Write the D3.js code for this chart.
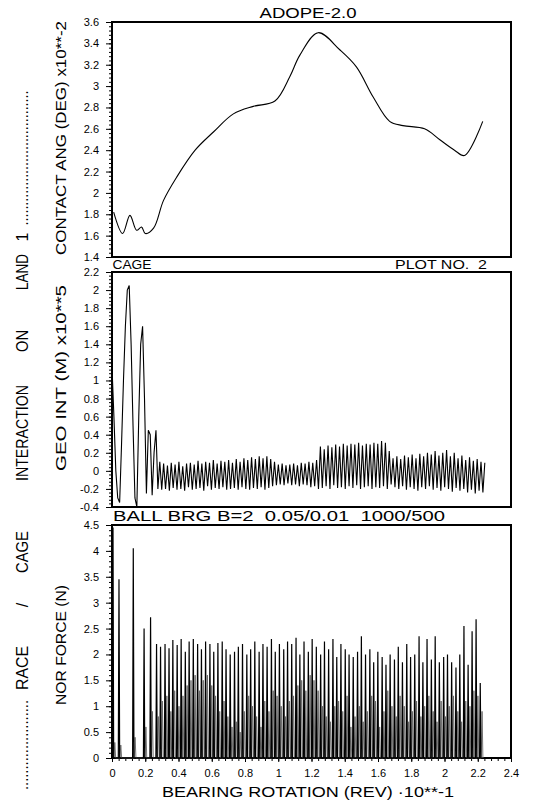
<!DOCTYPE html>
<html lang="en">
<head>
<meta charset="utf-8">
<script src="https://cdn.jsdelivr.net/npm/d3@7"></script>
<style type="text/css">
body { margin: 0; background: #fff; }
svg text { font-family: "Liberation Sans", Arial, sans-serif; fill: #000; }
.tick text { font-size: 11px; }
.tick line { stroke: #000; }
</style>
</head>
<body>
<script type="text/javascript">

// x axis: bearing rotation (rev) x10**-1
var rotTicks = [0, 0.2, 0.4, 0.6, 0.8, 1, 1.2, 1.4, 1.6, 1.8, 2, 2.2, 2.4];
var rotLabels = ["0", "0.2", "0.4", "0.6", "0.8", "1", "1.2", "1.4", "1.6", "1.8", "2", "2.2", "2.4"];

// top panel: contact angle (deg) x10**-2
var angTicks = [1.4, 1.6, 1.8, 2, 2.2, 2.4, 2.6, 2.8, 3, 3.2, 3.4, 3.6];
var angLabels = ["1.4", "1.6", "1.8", "2", "2.2", "2.4", "2.6", "2.8", "3", "3.2", "3.4", "3.6"];
var angX = [0.01, 0.064, 0.108, 0.148, 0.178, 0.2, 0.25, 0.31, 0.39, 0.5, 0.61, 0.73, 0.85, 0.98, 1.07, 1.13, 1.24, 1.37, 1.47, 1.57, 1.67, 1.75, 1.88, 1.97, 2.06, 2.12, 2.23];
var angY = [1.82, 1.62, 1.79, 1.65, 1.68, 1.62, 1.67, 1.93, 2.15, 2.40, 2.57, 2.74, 2.81, 2.86, 3.09, 3.29, 3.50, 3.34, 3.18, 2.90, 2.67, 2.63, 2.60, 2.50, 2.40, 2.35, 2.67];

// middle panel: geo interference (m) x10**5, sampled every geoStep
var geoTicks = [-0.4, -0.2, 0, 0.2, 0.4, 0.6, 0.8, 1, 1.2, 1.4, 1.6, 1.8, 2, 2.2];
var geoLabels = ["-0.4", "-0.2", "0", "0.2", "0.4", "0.6", "0.8", "1", "1.2", "1.4", "1.6", "1.8", "2", "2.2"];
var geoStep = 0.0115;
var geoY = [1.15, 0.6, 0.0, -0.3, -0.35, 0.3, 1.0, 1.6, 2.0, 2.05, 1.4, 0.5, -0.3, -0.4, 0.6, 1.4, 1.6, 0.8, -0.25, 0.45,
  0.4, -0.27, 0.2, 0.45, -0.2, 0.1, -0.21, 0.08, -0.2, 0.06, -0.22, 0.09, -0.19, 0.07, -0.21, 0.1, -0.2, 0.05, -0.22, 0.08,
  -0.18, 0.09, -0.21, 0.07, -0.2, 0.11, -0.19, 0.08, -0.22, 0.1, -0.17, 0.09, -0.21, 0.12, -0.19, 0.08, -0.2, 0.11, -0.18, 0.1,
  -0.21, 0.12, -0.2, 0.09, -0.19, 0.13, -0.21, 0.1, -0.18, 0.14, -0.2, 0.12, -0.21, 0.15, -0.19, 0.13, -0.2, 0.16, -0.18, 0.14,
  -0.21, 0.16, -0.19, 0.13, -0.17, 0.1, -0.16, 0.07, -0.15, 0.08, -0.16, 0.06, -0.14, 0.07, -0.16, 0.08, -0.15, 0.06, -0.17, 0.09,
  -0.15, 0.08, -0.16, 0.1, -0.18, 0.09, -0.17, 0.12, -0.2, 0.27, -0.19, 0.24, -0.17, 0.28, -0.2, 0.26, -0.16, 0.29, -0.19, 0.27,
  -0.18, 0.3, -0.2, 0.28, -0.17, 0.3, -0.19, 0.29, -0.16, 0.31, -0.2, 0.28, -0.18, 0.3, -0.17, 0.29, -0.2, 0.31, -0.18, 0.3,
  -0.19, 0.33, -0.17, 0.31, -0.2, 0.22, -0.15, 0.14, -0.18, 0.16, -0.2, 0.13, -0.17, 0.17, -0.21, 0.15, -0.18, 0.18, -0.2, 0.14,
  -0.22, 0.19, -0.18, 0.16, -0.2, 0.2, -0.17, 0.18, -0.21, 0.22, -0.19, 0.17, -0.22, 0.2, -0.18, 0.23, -0.2, 0.16, -0.23, 0.2,
  -0.19, 0.14, -0.22, 0.17, -0.2, 0.12, -0.24, 0.15, -0.21, 0.11, -0.25, 0.13, -0.22, 0.1, -0.24, 0.09];

// bottom panel: normal force (N) spikes and rebounds
var norTicks = [0, 0.5, 1, 1.5, 2, 2.5, 3, 3.5, 4, 4.5];
var norLabels = ["0", "0.5", "1", "1.5", "2", "2.5", "3", "3.5", "4", "4.5"];
var norX = [0.006, 0.042, 0.128, 0.193, 0.232,
  0.268, 0.292, 0.319, 0.343, 0.366, 0.392, 0.416, 0.441, 0.464, 0.489, 0.515, 0.538, 0.563, 0.589, 0.612, 0.637, 0.663, 0.686, 0.711, 0.737,
  0.760, 0.785, 0.811, 0.834, 0.859, 0.885, 0.908, 0.933, 0.959, 0.982, 1.007, 1.033, 1.056, 1.081, 1.107, 1.130, 1.155, 1.181, 1.204, 1.229,
  1.255, 1.278, 1.303, 1.329, 1.352, 1.377, 1.403, 1.426, 1.451, 1.477, 1.500, 1.525, 1.551, 1.574, 1.599, 1.625, 1.648, 1.673, 1.699, 1.722,
  1.747, 1.773, 1.796, 1.821, 1.847, 1.870, 1.895, 1.921, 1.944, 1.969, 1.995, 2.018, 2.043, 2.069, 2.092, 2.117, 2.142, 2.166, 2.190, 2.215];
var norY = [4.45, 3.45, 4.05, 2.5, 2.72,
  2.2, 2.15, 2.2, 2.12, 2.28, 2.18, 2.3, 2.05, 2.25, 2.3, 2.2, 2.1, 2.25, 2.2, 2.05, 2.22, 2.25, 2.1, 2.0, 2.05,
  2.15, 2.2, 2.0, 2.1, 2.25, 2.05, 2.2, 2.15, 2.3, 2.05, 2.2, 2.1, 2.25, 2.2, 2.32, 2.0, 2.25, 2.05, 2.3, 2.15,
  2.0, 2.25, 2.1, 2.3, 1.95, 2.2, 2.1, 2.0, 1.95, 2.05, 2.35, 2.0, 2.1, 1.85, 2.05, 1.95, 1.8, 2.0, 1.9, 2.15,
  1.85, 2.2, 1.95, 2.0, 2.35, 1.85, 2.3, 1.9, 2.35, 1.85, 1.95, 2.0, 1.85, 1.75, 2.0, 2.55, 1.8, 2.45, 2.68, 1.45];
var norB = [0.3, 0.25, 0.4, 0.6, 0.9,
  0.8, 1.1, 1.2, 0.9, 1.3, 1.0, 1.2, 1.4, 1.5, 1.6, 1.3, 1.5, 1.6, 1.4, 1.2, 0.9, 1.1, 0.8, 0.6, 0.7,
  0.5, 0.9, 1.2, 1.0, 0.8, 0.6, 1.1, 0.9, 1.3, 1.2, 1.0, 0.8, 1.1, 1.2, 1.4, 1.5, 1.3, 1.6, 1.5, 1.3,
  1.0, 0.8, 0.7, 1.0, 1.1, 0.9, 1.2, 0.6, 0.8, 1.0, 0.7, 0.9, 1.2, 1.1, 0.6, 0.9, 1.3, 1.0, 0.8, 1.2,
  1.0, 0.7, 0.9, 1.1, 0.8, 1.0, 1.2, 0.9, 0.7, 1.1, 0.8, 1.0, 1.2, 0.9, 0.7, 1.1, 1.0, 1.3, 1.2, 0.9];

var width = 533, height = 802;
var left = 112, right = 511;

var svg = d3.select("body").append("svg")
  .attr("width", width)
  .attr("height", height);

var x = d3.scaleLinear().domain([0, 2.4]).range([left, right]);

// frame + left axis with minor ticks
function panel(top, bottom, ticks, labels, minor) {
  var y = d3.scaleLinear().domain([ticks[0], ticks[ticks.length - 1]]).range([bottom, top]);
  var minors = d3.range(ticks[0], ticks[ticks.length - 1] + 1e-6, minor);
  svg.append("g")
    .attr("transform", "translate(" + left + ",0)")
    .call(d3.axisLeft(y).tickValues(minors).tickSize(3).tickFormat(""))
    .call(function(a) { a.select(".domain").remove(); });
  svg.append("g")
    .attr("transform", "translate(" + left + ",0)")
    .call(d3.axisLeft(y).tickValues(ticks).tickSize(6).tickPadding(7).tickFormat(function(d, i) { return labels[i]; }))
    .call(function(a) { a.select(".domain").remove(); });
  svg.append("rect")
    .attr("x", left).attr("y", top)
    .attr("width", right - left).attr("height", bottom - top)
    .attr("fill", "none").attr("stroke", "#000").attr("stroke-width", 2);
  return y;
}

var yAng = panel(22, 257, angTicks, angLabels, 0.04);
var yGeo = panel(272, 507, geoTicks, geoLabels, 0.04);
var yNor = panel(525, 758, norTicks, norLabels, 0.1);

// bottom x axis
svg.append("g")
  .attr("transform", "translate(0,758)")
  .call(d3.axisBottom(x).tickValues(d3.range(0, 2.4001, 0.04)).tickSize(3).tickFormat(""))
  .call(function(a) { a.select(".domain").remove(); });
svg.append("g")
  .attr("transform", "translate(0,758)")
  .call(d3.axisBottom(x).tickValues(rotTicks).tickSize(4).tickPadding(7).tickFormat(function(d, i) { return rotLabels[i]; }))
  .call(function(a) { a.select(".domain").remove(); });

// top curve
svg.append("path")
  .datum(d3.zip(angX, angY))
  .attr("fill", "none").attr("stroke", "#000").attr("stroke-width", 1.1)
  .attr("d", d3.line()
    .curve(d3.curveCatmullRom.alpha(0.5))
    .x(function(d) { return x(d[0]); })
    .y(function(d) { return yAng(d[1]); }));

// middle oscillation
svg.append("path")
  .datum(geoY)
  .attr("fill", "none").attr("stroke", "#000").attr("stroke-width", 1.1)
  .attr("d", d3.line()
    .x(function(d, i) { return x(i * geoStep); })
    .y(function(d) { return yGeo(d); }));

// bottom spikes (rise, peak, fall) and smaller rebounds
var spikePts = [], reboundPts = [];
norX.forEach(function(v, i) {
  spikePts.push([v - 0.004, 0], [v, norY[i]], [v + 0.004, 0]);
  reboundPts.push([v + 0.006, 0], [v + 0.011, norB[i]], [v + 0.016, 0]);
});
var normLine = d3.line()
  .x(function(d) { return x(d[0]); })
  .y(function(d) { return yNor(d[1]); });
svg.append("path")
  .datum(reboundPts)
  .attr("fill", "none").attr("stroke", "#666").attr("stroke-width", 0.9)
  .attr("d", normLine);
svg.append("path")
  .datum(spikePts)
  .attr("fill", "none").attr("stroke", "#000").attr("stroke-width", 1.2)
  .attr("d", normLine);

// stretched plotter-style text
function label(px, py, len, s, size, rot) {
  var t = svg.append("text")
    .attr("transform", "translate(" + px + "," + py + ")" + (rot ? " rotate(-90)" : ""))
    .attr("text-anchor", "middle")
    .style("font-size", size).style("white-space", "pre")
    .text(s);
  if (len) t.attr("textLength", len).attr("lengthAdjust", "spacingAndGlyphs");
}

label(308, 18, 97, "ADOPE-2.0", "14px");
label(132, 269, 39, "CAGE", "12px");
label(441, 269, 92, "PLOT NO.  2", "12px");
label(279, 521, 332, "BALL BRG B=2  0.05/0.01  1000/500", "14px");
label(308, 797, 292, "BEARING ROTATION (REV) \u00b710**-1", "14px");

label(66, 138, 234, "CONTACT ANG (DEG) x10**-2", "14px", true);
label(66, 378, 186, "GEO INT (M) x10**5", "14px", true);
label(66, 645, 120, "NOR FORCE (N)", "14px", true);

// side caption, word by word
label(28, 745, 90, "......................", "16px", true);
label(28, 668, 44, "RACE", "16px", true);
label(28, 605, 0, "/", "16px", true);
label(28, 552, 42, "CAGE", "16px", true);
label(28, 433, 96, "INTERACTION", "16px", true);
label(28, 341, 22, "ON", "16px", true);
label(28, 272, 36, "LAND", "16px", true);
label(28, 237, 0, "1", "16px", true);
label(28, 158, 135, "..................................", "16px", true);

</script>
</body>
</html>
